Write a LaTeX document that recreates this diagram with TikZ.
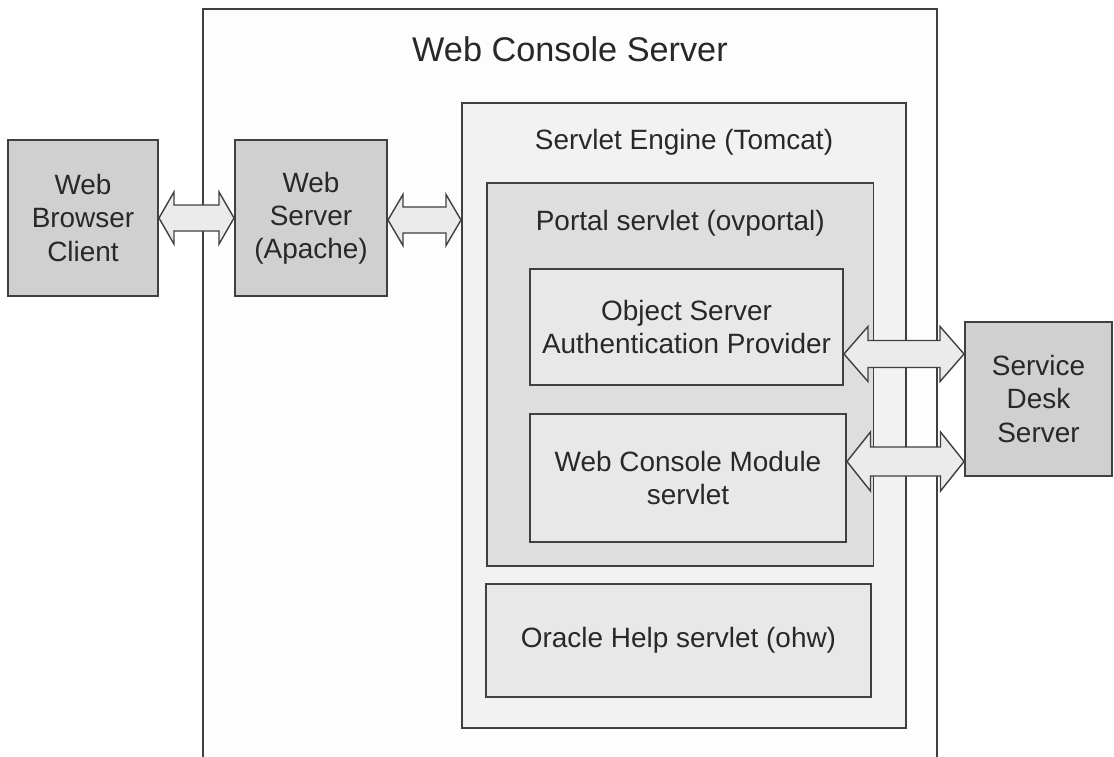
\documentclass[tikz,border=0pt]{standalone}
\usepackage{fontspec}
\setmainfont{Liberation Sans}
\usetikzlibrary{positioning,calc}
\definecolor{lineC}{RGB}{64,64,64}
\definecolor{textC}{RGB}{40,40,40}
\definecolor{outerfill}{RGB}{253,253,253}
\definecolor{hostfill}{RGB}{208,208,208}
\definecolor{enginefill}{RGB}{242,242,242}
\definecolor{portalfill}{RGB}{222,222,222}
\definecolor{modfill}{RGB}{232,232,232}
\definecolor{arrowfill}{RGB}{235,235,235}
\tikzset{
 box/.style={rectangle,draw=lineC,line width=1.1pt,align=center,text=textC,font=\fontsize{15.9}{18.8}\selectfont,inner sep=0pt},
 host/.style={box,fill=hostfill},
 ttl/.style={inner sep=0pt,text=textC,font=\fontsize{15.9}{18.8}\selectfont},
 dblarrow/.style={draw=lineC,line width=0.8pt,fill=arrowfill,line join=miter}}
% block arrow: from, to, shaft half width, head half width, head length
\newcommand{\blockarrow}[5]{%
 \draw[dblarrow] let \p1=(#1), \p2=(#2) in
  (\x1,\y1) -- (\x1+#5,\y1+#4) -- (\x1+#5,\y1+#3) -- (\x2-#5,\y1+#3) -- (\x2-#5,\y1+#4)
  -- (\x2,\y1) -- (\x2-#5,\y1-#4) -- (\x2-#5,\y1-#3) -- (\x1+#5,\y1-#3) -- (\x1+#5,\y1-#4) -- cycle;}
\begin{document}
\begin{tikzpicture}
\path[use as bounding box] (0,0) rectangle (22.28,-15.12);
\clip (0,0) rectangle (22.28,-15.12);
% containers
\node[box,fill=outerfill,minimum width=14.68cm,minimum height=15.82cm] (wcs) at (11.40,-8.09) {};
\node[ttl,font=\fontsize{19.5}{23}\selectfont,below=0.56cm of wcs.north] (wcstitle) {Web Console Server};
\node[box,fill=enginefill,minimum width=8.88cm,minimum height=12.5cm] (tomcat) at (13.68,-8.31) {};
\node[ttl,below=0.54cm of tomcat.north] (tomcattitle) {Servlet Engine (Tomcat)};
\node[box,fill=portalfill,minimum width=7.73cm,minimum height=7.66cm] (portal) at (13.605,-7.49) {};
\node[ttl,below=0.56cm of portal.north] (portaltitle) {Portal servlet (ovportal)};
% inner servlets
\node[box,fill=modfill,minimum width=6.26cm,minimum height=2.32cm] (auth) at (13.73,-6.54) {Object Server\\Authentication Provider};
\node[box,fill=modfill,minimum width=6.32cm,minimum height=2.56cm] (module) at (13.76,-9.56) {Web Console Module\\servlet};
\node[box,fill=modfill,minimum width=7.70cm,minimum height=2.26cm] (oracle) at (13.57,-12.81) {Oracle Help servlet (ohw)};
% hosts
\node[host,minimum width=3.0cm,minimum height=3.12cm] (browser) at (1.66,-4.36) {Web\\Browser\\Client};
\node[host,minimum width=3.04cm,minimum height=3.12cm] (apache) at (6.22,-4.36) {Web\\Server\\(Apache)};
\node[host,minimum width=2.94cm,minimum height=3.08cm] (desk) at (20.77,-7.98) {Service\\Desk\\Server};
% connections
\blockarrow{browser.east}{apache.west}{0.26cm}{0.52cm}{0.3cm}
\blockarrow{[yshift=-0.04cm]apache.east}{[yshift=-0.04cm]apache.east -| tomcat.west}{0.26cm}{0.51cm}{0.3cm}
\blockarrow{[yshift=-0.54cm]auth.east}{[yshift=-0.54cm]auth.east -| desk.west}{0.27cm}{0.55cm}{0.48cm}
\blockarrow{[yshift=0.33cm]module.east}{[yshift=0.33cm]module.east -| desk.west}{0.29cm}{0.59cm}{0.47cm}
\end{tikzpicture}
\end{document}
